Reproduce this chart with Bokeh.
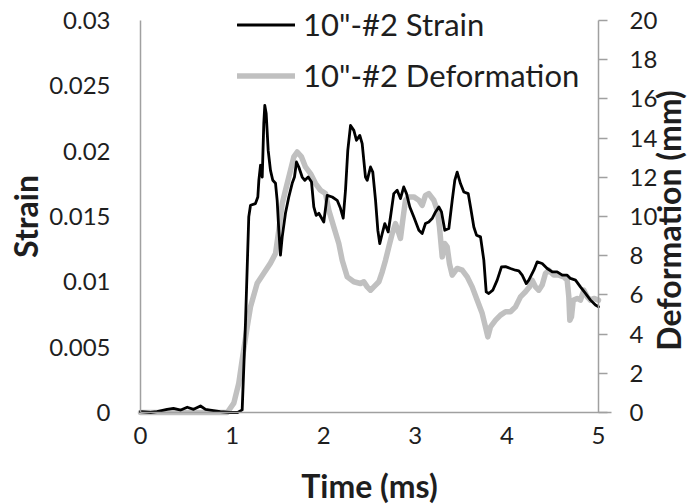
from bokeh.plotting import figure
from bokeh.models import Range1d, LinearAxis, FixedTicker, Legend, LegendItem, Label
from bokeh.embed import file_html
from bokeh.resources import INLINE

# Gauge 10"-#2: strain gauge reading and measured deformation over time
strain_time_ms = [0, 0.11, 0.18, 0.29, 0.36, 0.44, 0.51, 0.58, 0.655, 0.71, 0.76, 0.87, 0.98,
                  1.06, 1.11, 1.146, 1.182, 1.201, 1.255, 1.281, 1.292, 1.31, 1.329, 1.346,
                  1.357, 1.372, 1.394, 1.419, 1.444, 1.474, 1.492, 1.51, 1.528, 1.547, 1.583,
                  1.619, 1.656, 1.681, 1.703, 1.728, 1.765, 1.794, 1.831, 1.867, 1.892, 1.918,
                  1.947, 2.001, 2.038, 2.093, 2.147, 2.183, 2.213, 2.238, 2.263, 2.293, 2.329,
                  2.358, 2.394, 2.42, 2.456, 2.475, 2.511, 2.536, 2.566, 2.591, 2.612, 2.639,
                  2.667, 2.704, 2.729, 2.765, 2.802, 2.838, 2.874, 2.904, 2.94, 2.984, 3.039,
                  3.075, 3.111, 3.147, 3.184, 3.221, 3.257, 3.286, 3.322, 3.366, 3.403, 3.431,
                  3.457, 3.493, 3.53, 3.578, 3.603, 3.639, 3.668, 3.712, 3.748, 3.774, 3.802,
                  3.846, 3.894, 3.941, 3.985, 4.039, 4.094, 4.13, 4.167, 4.211, 4.239, 4.294,
                  4.331, 4.385, 4.44, 4.495, 4.549, 4.604, 4.658, 4.694, 4.749, 4.803, 4.858,
                  4.913, 4.967, 5.0]
strain = [0.00006, 0.0, 0.00006, 0.00024, 0.00032, 0.00019, 0.0004, 0.00024, 0.0005, 0.00024,
          0.00019, 0.00006, 0.0, 0.0, 0.0002, 0.00684, 0.01497, 0.01586, 0.01599, 0.01649,
          0.01777, 0.01892, 0.01802, 0.02213, 0.0235, 0.02289, 0.02006, 0.01853, 0.01777,
          0.01754, 0.01624, 0.01395, 0.01204, 0.01344, 0.01527, 0.01649, 0.01754, 0.01802,
          0.01917, 0.01879, 0.01802, 0.01777, 0.01802, 0.01764, 0.01573, 0.01509, 0.01525,
          0.01458, 0.01662, 0.01649, 0.01624, 0.01563, 0.01487, 0.01701, 0.02006, 0.02197,
          0.02159, 0.02083, 0.02121, 0.02057, 0.01802, 0.01777, 0.01879, 0.0184, 0.01624,
          0.01395, 0.01293, 0.0137, 0.01446, 0.01382, 0.01496, 0.01675, 0.01701, 0.01637,
          0.01726, 0.01675, 0.01573, 0.01496, 0.01395, 0.0137, 0.01446, 0.01458, 0.01484,
          0.01535, 0.01573, 0.01535, 0.01395, 0.01408, 0.01624, 0.01777, 0.0184, 0.01752,
          0.01688, 0.01675, 0.01573, 0.0142, 0.01357, 0.01344, 0.01166, 0.00923, 0.00911,
          0.00936, 0.01013, 0.01114, 0.01116, 0.01102, 0.01089, 0.01084, 0.01051, 0.00987,
          0.01013, 0.01089, 0.01153, 0.0114, 0.01102, 0.01076, 0.01076, 0.01051, 0.01051,
          0.01026, 0.01013, 0.00961, 0.00911, 0.0086, 0.00822, 0.00809]

deform_time_ms = [0, 0.947, 1.019, 1.073, 1.11, 1.165, 1.201, 1.274, 1.346, 1.419, 1.474, 1.51,
                  1.547, 1.583, 1.638, 1.674, 1.711, 1.758, 1.801, 1.856, 1.911, 1.965, 2.02,
                  2.056, 2.11, 2.165, 2.202, 2.257, 2.329, 2.402, 2.438, 2.475, 2.511, 2.547,
                  2.602, 2.639, 2.675, 2.711, 2.748, 2.784, 2.809, 2.838, 2.868, 2.893, 2.929,
                  2.984, 3.039, 3.075, 3.111, 3.147, 3.202, 3.239, 3.264, 3.294, 3.322, 3.348,
                  3.373, 3.403, 3.457, 3.512, 3.567, 3.621, 3.676, 3.73, 3.766, 3.792, 3.821,
                  3.876, 3.93, 3.985, 4.039, 4.094, 4.148, 4.203, 4.247, 4.276, 4.312, 4.348,
                  4.385, 4.421, 4.458, 4.512, 4.567, 4.621, 4.658, 4.676, 4.687, 4.705, 4.724,
                  4.767, 4.803, 4.84, 4.877, 4.913, 4.949, 5.0]
deformation_mm = [0, 0, 0.48, 1.5, 2.68, 4.37, 5.39, 6.6, 7.11, 7.62, 8.11, 9.3, 10.66, 11.34,
                  12.36, 13.04, 13.29, 13.04, 12.53, 12.19, 11.68, 11.34, 11.17, 10.32, 9.47,
                  8.62, 7.77, 6.92, 6.67, 6.58, 6.67, 6.41, 6.24, 6.41, 6.67, 7.18, 7.77, 8.45,
                  9.13, 9.64, 9.3, 8.88, 9.98, 10.83, 11.0, 11.0, 10.83, 10.57, 11.08, 11.17,
                  10.83, 10.32, 9.47, 7.94, 8.62, 8.45, 7.6, 7.01, 7.35, 7.26, 6.92, 6.41, 5.73,
                  5.06, 4.37, 3.86, 4.37, 4.71, 4.97, 5.14, 5.14, 5.39, 5.9, 6.16, 6.41, 6.75,
                  6.41, 6.24, 6.5, 7.09, 7.26, 7.01, 7.01, 6.92, 6.75, 5.9, 4.71, 4.88, 5.73,
                  5.82, 5.73, 6.24, 5.9, 5.73, 5.82, 5.73]

time_ticks = [0, 1, 2, 3, 4, 5]
strain_ticks = [0, 0.005, 0.01, 0.015, 0.02, 0.025, 0.03]
strain_tick_labels = ["0", "0.005", "0.01", "0.015", "0.02", "0.025", "0.03"]
deform_ticks = [0, 2, 4, 6, 8, 10, 12, 14, 16, 18, 20]

FONT = "Lato"
AXIS_COLOR = "#a0a0a0"
TEXT_COLOR = "#1e1e1e"

# The drawing frame fills the whole canvas; the three axes are pinned at
# t = 0, t = 5 and strain = 0 and trimmed to the data extent with `bounds`,
# so titles and legend can be placed freely around the plotted area.
CANVAS_W, CANVAS_H = 689, 504
ORIGIN_X = 140         # px, canvas left to t = 0
DATA_W = 458           # px spanned by t = 0 .. 5
ORIGIN_Y = 412         # px, canvas top to the zero line
TOP_GAP = 20           # px between canvas top and the highest tick
T_MAX = time_ticks[-1]
STRAIN_MAX = strain_ticks[-1]
DEFORM_MAX = deform_ticks[-1]

px_per_ms = DATA_W / T_MAX
data_h = ORIGIN_Y - TOP_GAP
below = CANVAS_H - ORIGIN_Y

p = figure(frame_width=CANVAS_W, frame_height=CANVAS_H,
           output_backend="svg", toolbar_location=None,
           x_range=Range1d(-ORIGIN_X / px_per_ms, (CANVAS_W - ORIGIN_X) / px_per_ms),
           y_range=Range1d(-STRAIN_MAX * below / data_h, STRAIN_MAX * ORIGIN_Y / data_h),
           min_border=0)
p.outline_line_color = None
p.xgrid.visible = False
p.ygrid.visible = False
p.background_fill_color = "white"
p.border_fill_color = "white"

p.extra_y_ranges = {"deform": Range1d(-DEFORM_MAX * below / data_h,
                                      DEFORM_MAX * ORIGIN_Y / data_h)}

# deformation drawn first so the strain trace sits on top
deform_line = p.line(deform_time_ms, deformation_mm, y_range_name="deform",
                     line_color="#c0c0c0", line_width=5.5, line_join="round",
                     line_cap="round")
strain_line = p.line(strain_time_ms, strain, line_color="black", line_width=2.8,
                     line_join="round", line_cap="round")

# bottom axis, along strain = 0
xa = p.xaxis[0]
xa.fixed_location = 0
xa.ticker = FixedTicker(ticks=time_ticks)
xa.bounds = (0, T_MAX * 1.028)
xa.major_tick_out = 0
xa.major_tick_in = 0
xa.minor_tick_out = 0
xa.minor_tick_in = 0
xa.major_label_standoff = 14

# left axis, at t = 0
ya = p.yaxis[0]
ya.fixed_location = 0
ya.ticker = FixedTicker(ticks=strain_ticks)
ya.major_label_overrides = dict(zip(strain_ticks, strain_tick_labels))
ya.bounds = (0, STRAIN_MAX)
ya.major_tick_out = 0
ya.major_tick_in = 0
ya.minor_tick_out = 0
ya.minor_tick_in = 0
ya.major_label_standoff = 30

# right axis for deformation, at t = 5
ra = LinearAxis(y_range_name="deform", ticker=FixedTicker(ticks=deform_ticks),
                fixed_location=T_MAX)
ra.bounds = (0, DEFORM_MAX)
ra.major_tick_out = 9
ra.major_tick_in = 0
ra.minor_tick_out = 0
ra.minor_tick_in = 0
ra.major_label_standoff = 22
p.add_layout(ra, "right")

for ax in (xa, ya, ra):
    ax.axis_line_color = AXIS_COLOR
    ax.axis_line_width = 1.5
    ax.major_tick_line_color = AXIS_COLOR
    ax.major_tick_line_width = 1.5
    ax.major_label_text_font = FONT
    ax.major_label_text_font_size = "24px"
    ax.major_label_text_color = TEXT_COLOR

# axis titles
title_style = dict(text_font=FONT, text_font_size="32px", text_font_style="bold",
                   text_color=TEXT_COLOR, text_align="center", text_baseline="middle")
p.add_layout(Label(x=T_MAX / 2, y=0, y_offset=-73, text="Time (ms)", **title_style))
p.add_layout(Label(x=0, y=STRAIN_MAX / 2, x_offset=-115, text="Strain",
                   angle=90, angle_units="deg", **title_style))
p.add_layout(Label(x=T_MAX, y=STRAIN_MAX / 2, x_offset=70, y_offset=-4,
                   text="Deformation (mm)", angle=90, angle_units="deg", **title_style))

legend = Legend(items=[LegendItem(label='10"-#2 Strain', renderers=[strain_line]),
                       LegendItem(label='10"-#2 Deformation', renderers=[deform_line])],
                location=(ORIGIN_X + 97, CANVAS_H - 94), orientation="vertical",
                glyph_width=58, glyph_height=37, label_height=37, spacing=13,
                label_standoff=8, padding=0, margin=0,
                label_text_font=FONT, label_text_font_size="31px",
                label_text_color=TEXT_COLOR,
                border_line_color=None, background_fill_alpha=0)
p.add_layout(legend)

open("out.html", "w").write(file_html(p, INLINE))
